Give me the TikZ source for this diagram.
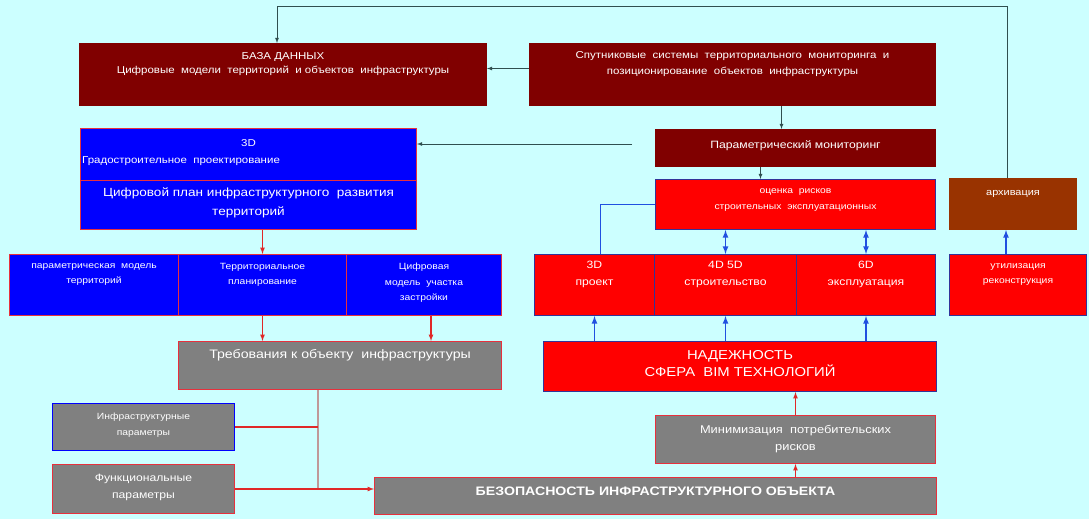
\documentclass[tikz,border=0pt]{standalone}
\usepackage{fontspec}
\setmainfont{Liberation Sans}[FakeStretch=1.15]
\usepackage{tikz}
\usetikzlibrary{positioning}

\definecolor{bgcyan}{HTML}{CCFFFF}
\definecolor{dbred}{HTML}{800000}
\definecolor{bxblue}{HTML}{0000FF}
\definecolor{bxred}{HTML}{FF0000}
\definecolor{bxgray}{HTML}{808080}
\definecolor{bxbrown}{HTML}{993300}
\definecolor{edgered}{HTML}{E8303C}
\definecolor{edgenavy}{HTML}{333399}
\definecolor{lineslate}{HTML}{2F4F4F}
\definecolor{arrblue}{HTML}{2050E0}
\definecolor{arrred}{HTML}{E02828}
\definecolor{joinpink}{HTML}{C09898}

\tikzset{
	box/.style={anchor=north west, inner sep=0pt, line width=1pt},
	lbl/.style={anchor=north, inner sep=0pt, align=center, text=white},
	ln/.style={draw=lineslate, line width=0.8pt},
	bl/.style={draw=arrblue, line width=1.6pt},
	rd/.style={draw=arrred, line width=1.2pt},
}

\begin{document}
\begin{tikzpicture}[x=1pt,y=-1pt]
	\fill[bgcyan] (0,0) rectangle (1089,519);
	\useasboundingbox (0,0) rectangle (1089,519);

	% top row
	\node[box,fill=dbred,draw=dbred,minimum width=407,minimum height=62,
		label={[lbl,yshift=-9pt,font=\fontsize{10}{14}\selectfont]north:БАЗА ДАННЫХ\\Цифровые\ \ модели\ \ территорий\ \ и объектов\ \ инфраструктуры}] (baza) at (79,43) {};
	\node[box,fill=dbred,draw=dbred,minimum width=406,minimum height=62,
		label={[lbl,yshift=-8pt,font=\fontsize{10}{16}\selectfont]north:Спутниковые\ \ системы\ \ территориального\ \ мониторинга\ \ и\\позиционирование\ \ объектов\ \ инфраструктуры}] (sput) at (529,43) {};

	% blue planning block
	\node[box,fill=bxblue,draw=edgered,minimum width=336,minimum height=52,
		label={[lbl,yshift=-11pt,font=\fontsize{10}{14}\selectfont]north:3D},
		label={[lbl,anchor=north west,xshift=2pt,yshift=-28pt,font=\fontsize{10}{14}\selectfont]north west:Градостроительное\ \ проектирование}] (gp) at (80,128) {};
	\node[box,fill=bxblue,draw=edgered,minimum width=336,minimum height=49,
		label={[lbl,yshift=-8pt,font=\fontsize{11.8}{19}\selectfont]north:Цифровой план инфраструктурного\ \ развития\\территорий}] (plan) at (80,180) {};

	% monitoring block
	\node[box,fill=dbred,draw=dbred,minimum width=280,minimum height=37,
		label={[lbl,yshift=-11pt,font=\fontsize{10.6}{14}\selectfont]north:Параметрический мониторинг}] (param) at (655,129) {};
	\node[box,fill=bxred,draw=edgenavy,minimum width=280,minimum height=50,
		label={[lbl,yshift=-9pt,font=\fontsize{9}{16}\selectfont]north:оценка\ \ рисков\\строительных\ \ эксплуатационных}] (risk) at (655,179) {};
	\node[box,fill=bxbrown,draw=bxbrown,minimum width=127,minimum height=51,
		label={[lbl,yshift=-12pt,font=\fontsize{9.5}{14}\selectfont]north:архивация}] (arch) at (949,178) {};

	% blue row
	\node[box,fill=bxblue,draw=edgered,minimum width=169,minimum height=61,
		label={[lbl,yshift=-9pt,font=\fontsize{9}{15}\selectfont]north:параметрическая\ \ модель\\территорий}] (mod) at (9,254) {};
	\node[box,fill=bxblue,draw=edgered,minimum width=168,minimum height=61,
		label={[lbl,yshift=-9pt,font=\fontsize{9}{15}\selectfont]north:Территориальное\\планирование}] (terr) at (178,254) {};
	\node[box,fill=bxblue,draw=edgered,minimum width=155,minimum height=61,
		label={[lbl,yshift=-9pt,font=\fontsize{9}{15.5}\selectfont]north:Цифровая\\модель\ \ участка\\застройки}] (zastr) at (346,254) {};

	% red row
	\node[box,fill=bxred,draw=edgenavy,minimum width=120,minimum height=61,
		label={[lbl,yshift=-7pt,font=\fontsize{10.6}{17}\selectfont]north:3D\\проект}] (p3d) at (534,254) {};
	\node[box,fill=bxred,draw=edgenavy,minimum width=142,minimum height=61,
		label={[lbl,yshift=-7pt,font=\fontsize{10.6}{17}\selectfont]north:4D 5D\\строительство}] (p45) at (654,254) {};
	\node[box,fill=bxred,draw=edgenavy,minimum width=139,minimum height=61,
		label={[lbl,yshift=-7pt,font=\fontsize{10.6}{17}\selectfont]north:6D\\эксплуатация}] (p6) at (796,254) {};
	\node[box,fill=bxred,draw=edgenavy,minimum width=137,minimum height=61,
		label={[lbl,yshift=-9pt,font=\fontsize{9}{15}\selectfont]north:утилизация\\реконструкция}] (util) at (949,254) {};

	% lower blocks
	\node[box,fill=bxgray,draw=edgered,minimum width=323,minimum height=48,
		label={[lbl,yshift=-8pt,font=\fontsize{12.3}{14}\selectfont]north:Требования к объекту\ \ инфраструктуры}] (treb) at (178,341) {};
	\node[box,fill=bxred,draw=edgenavy,minimum width=393,minimum height=50,
		label={[lbl,yshift=-9pt,font=\fontsize{12.9}{17}\selectfont]north:НАДЕЖНОСТЬ\\СФЕРА\ \ BIM ТЕХНОЛОГИЙ}] (nad) at (543,341) {};
	\node[box,fill=bxgray,draw=bxblue,minimum width=182,minimum height=47,
		label={[lbl,yshift=-10pt,font=\fontsize{9}{16}\selectfont]north:Инфраструктурные\\параметры}] (infra) at (52,403) {};
	\node[box,fill=bxgray,draw=edgered,minimum width=280,minimum height=48,
		label={[lbl,yshift=-10pt,font=\fontsize{11.2}{17}\selectfont]north:Минимизация\ \ потребительских\\рисков}] (mini) at (655,415) {};
	\node[box,fill=bxgray,draw=edgered,minimum width=182,minimum height=49,
		label={[lbl,yshift=-10pt,font=\fontsize{10.6}{17}\selectfont]north:Функциональные\\параметры}] (func) at (52,464) {};
	\node[box,fill=bxgray,draw=edgered,minimum width=562,minimum height=37,
		label={[lbl,yshift=-10pt,font=\bfseries\fontsize{12.3}{14}\selectfont]north:БЕЗОПАСНОСТЬ ИНФРАСТРУКТУРНОГО ОБЪЕКТА}] (bez) at (374,477) {};

	% connectors, dark
	\coordinate (loop) at (0,6);
	\coordinate (pm) at (632,144);
	\draw[ln,-latex] ([xshift=-6pt]arch.north) -- ([xshift=-6pt]arch.north |- loop) -| ([xshift=-6pt]baza.north);
	\draw[ln,-latex] ([yshift=6pt]sput.west) -- ([yshift=6pt]baza.east);
	\draw[ln,-latex] ([xshift=-14pt]param.north |- sput.south) -- ([xshift=-14pt]param.north);
	\draw[ln,-latex] ([xshift=-35pt]param.south) -- ([xshift=-35pt]risk.north);
	\draw[ln,-latex] (pm) -- (pm -| gp.east);

	% connectors, blue
	\draw[bl] (risk.west) -| ([xshift=6pt]p3d.north);
	\draw[bl,latex-latex] (p45.north |- risk.south) -- (p45.north);
	\draw[bl,latex-latex] (p6.north |- risk.south) -- (p6.north);
	\foreach \c in {p3d,p45,p6}
	\draw[bl,-latex] (nad.north -| \c.south) -- (\c.south);
	\draw[bl,-latex] ([xshift=-12pt]util.north) -- ([xshift=-12pt]util.north |- arch.south);

	% connectors, red
	\coordinate (jn) at (318,488);
	\draw[rd,-latex] (plan.south -| terr.north) -- (terr.north);
	\draw[rd,-latex] (terr.south) -- (terr.south |- treb.north);
	\draw[rd,-latex] ([xshift=7pt]zastr.south) -- ([xshift=7pt]zastr.south |- treb.north);
	\draw[draw=joinpink,line width=2pt] (treb.south -| jn) -- (jn);
	\draw[rd] (infra.east) -- (infra.east -| jn);
	\draw[rd,-latex] (func.east) -- (func.east -| bez.west);
	\draw[rd,-latex] (mini.north) -- (mini.north |- nad.south);
	\draw[rd,-latex] (mini.south |- bez.north) -- (mini.south);
\end{tikzpicture}
\end{document}
